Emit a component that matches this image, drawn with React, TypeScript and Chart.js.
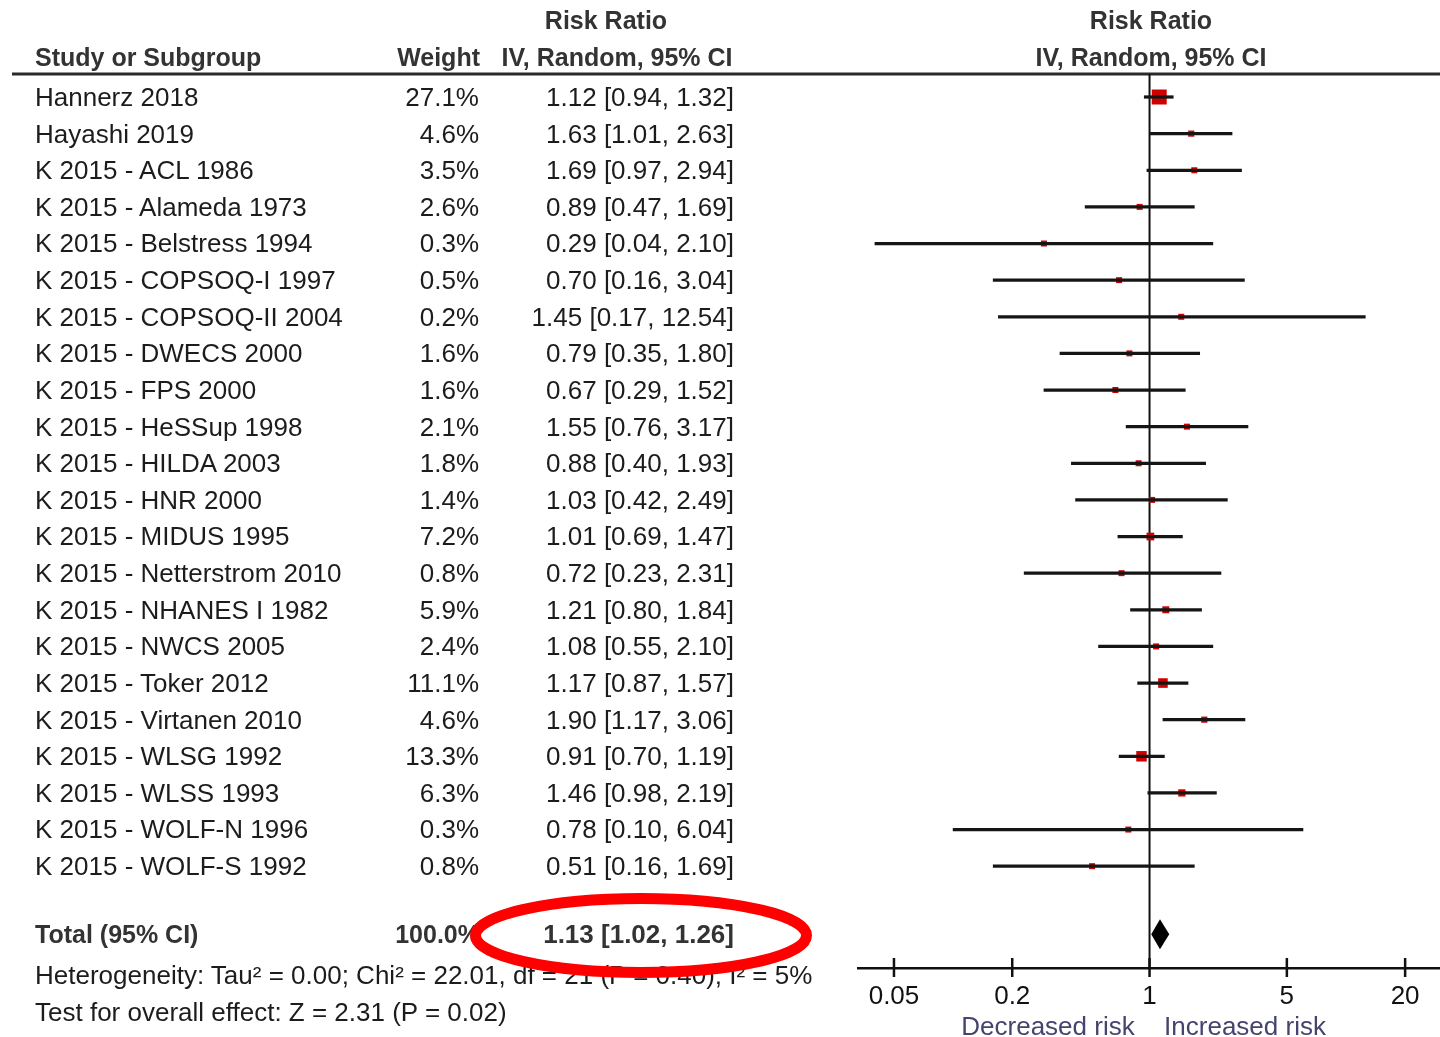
import React, { useEffect, useRef } from "react";
import { Chart, registerables } from "chart.js";

Chart.register(...registerables);

const studies = [
  "Hannerz 2018",
  "Hayashi 2019",
  "K 2015 - ACL 1986",
  "K 2015 - Alameda 1973",
  "K 2015 - Belstress 1994",
  "K 2015 - COPSOQ-I 1997",
  "K 2015 - COPSOQ-II 2004",
  "K 2015 - DWECS 2000",
  "K 2015 - FPS 2000",
  "K 2015 - HeSSup 1998",
  "K 2015 - HILDA 2003",
  "K 2015 - HNR 2000",
  "K 2015 - MIDUS 1995",
  "K 2015 - Netterstrom 2010",
  "K 2015 - NHANES I 1982",
  "K 2015 - NWCS 2005",
  "K 2015 - Toker 2012",
  "K 2015 - Virtanen 2010",
  "K 2015 - WLSG 1992",
  "K 2015 - WLSS 1993",
  "K 2015 - WOLF-N 1996",
  "K 2015 - WOLF-S 1992",
];
const weights = [27.1, 4.6, 3.5, 2.6, 0.3, 0.5, 0.2, 1.6, 1.6, 2.1, 1.8, 1.4, 7.2, 0.8, 5.9, 2.4, 11.1, 4.6, 13.3, 6.3, 0.3, 0.8];
const rr = [1.12, 1.63, 1.69, 0.89, 0.29, 0.7, 1.45, 0.79, 0.67, 1.55, 0.88, 1.03, 1.01, 0.72, 1.21, 1.08, 1.17, 1.9, 0.91, 1.46, 0.78, 0.51];
const lower = [0.94, 1.01, 0.97, 0.47, 0.04, 0.16, 0.17, 0.35, 0.29, 0.76, 0.4, 0.42, 0.69, 0.23, 0.8, 0.55, 0.87, 1.17, 0.7, 0.98, 0.1, 0.16];
const upper = [1.32, 2.63, 2.94, 1.69, 2.1, 3.04, 12.54, 1.8, 1.52, 3.17, 1.93, 2.49, 1.47, 2.31, 1.84, 2.1, 1.57, 3.06, 1.19, 2.19, 6.04, 1.69];
const totalRR = 1.13;
const totalLower = 1.02;
const totalUpper = 1.26;
const totalWeight = "100.0%";
const xTicks = [0.05, 0.2, 1, 5, 20];

const fmt = (v: number) => v.toFixed(2);

const ROW0 = 97;
const ROWH = 36.62;
const TOTAL_ROW = 22.86;
const FONT = '"Liberation Sans", Arial, sans-serif';

const overlayPlugin = {
  id: "forestOverlay",
  beforeDatasetsDraw(chart: any) {
    const { ctx, chartArea, scales } = chart;
    const x = scales.x;
    ctx.save();
    // header rule
    ctx.strokeStyle = "#2a2a2a";
    ctx.lineWidth = 3;
    ctx.beginPath();
    ctx.moveTo(12, chartArea.top);
    ctx.lineTo(chart.width, chartArea.top);
    ctx.stroke();
    // line of no effect
    const x1 = x.getPixelForValue(1);
    ctx.strokeStyle = "#111";
    ctx.lineWidth = 2;
    ctx.beginPath();
    ctx.moveTo(x1, chartArea.top);
    ctx.lineTo(x1, chartArea.bottom);
    ctx.stroke();
    ctx.restore();
  },
  afterDatasetsDraw(chart: any) {
    const { ctx, chartArea, scales } = chart;
    const x = scales.x;
    const y = scales.y;
    ctx.save();
    // axis tick marks crossing the axis
    ctx.strokeStyle = "#111";
    ctx.lineWidth = 2.5;
    xTicks.forEach((v) => {
      const px = x.getPixelForValue(v);
      ctx.beginPath();
      ctx.moveTo(px, chartArea.bottom - 10);
      ctx.lineTo(px, chartArea.bottom + 9);
      ctx.stroke();
    });
    // pooled diamond
    const yc = y.getPixelForValue(TOTAL_ROW);
    const xl = x.getPixelForValue(totalLower);
    const xm = x.getPixelForValue(totalRR);
    const xr = x.getPixelForValue(totalUpper);
    ctx.fillStyle = "#000";
    ctx.beginPath();
    ctx.moveTo(xl, yc);
    ctx.lineTo(xm, yc - 15);
    ctx.lineTo(xr, yc);
    ctx.lineTo(xm, yc + 15);
    ctx.closePath();
    ctx.fill();
    ctx.restore();
  },
};

type TProps = {
  text: string;
  x: number;
  y: number;
  align?: "left" | "right" | "center";
  bold?: boolean;
  size?: number;
  color?: string;
};

function T({ text, x, y, align = "left", bold = false, size = 26, color = "#1c1c1c" }: TProps) {
  const lh = 32;
  const style: React.CSSProperties = {
    position: "absolute",
    top: y - lh / 2,
    height: lh,
    lineHeight: lh + "px",
    fontFamily: FONT,
    fontSize: size,
    fontWeight: bold ? 700 : 400,
    color,
    whiteSpace: "nowrap",
  };
  if (align === "left") style.left = x;
  else if (align === "right") style.right = 1440 - x;
  else {
    style.left = x;
    style.transform = "translateX(-50%)";
  }
  return <div style={style}>{text}</div>;
}

export default function App() {
  const canvasRef = useRef<HTMLCanvasElement | null>(null);

  useEffect(() => {
    document.body.style.margin = "0";
    const canvas = canvasRef.current;
    if (!canvas) return;
    const sides = weights.map((w) => Math.max(6, 15 * Math.sqrt(w / 27.1)));
    const chart = new Chart(canvas, {
      type: "bar",
      data: {
        datasets: [
          {
            type: "bar",
            indexAxis: "y",
            data: studies.map((_, i) => ({ x: [lower[i], upper[i]], y: i })),
            backgroundColor: "#151515",
            borderWidth: 0,
            barThickness: 2.6,
          } as any,
          {
            type: "scatter",
            data: studies.map((_, i) => ({ x: rr[i], y: i })),
            pointStyle: "rect",
            pointRadius: sides.map((s) => s / Math.SQRT2),
            pointHoverRadius: sides.map((s) => s / Math.SQRT2),
            backgroundColor: "#d00000",
            borderWidth: 0,
          } as any,
        ],
      },
      options: {
        animation: false,
        responsive: false,
        maintainAspectRatio: false,
        events: [],
        layout: { autoPadding: false, padding: { left: 858, top: 74, right: 0, bottom: 0 } },
        plugins: { legend: { display: false }, tooltip: { enabled: false } },
        scales: {
          x: {
            type: "logarithmic",
            position: "bottom",
            offset: false,
            min: 0.0328,
            max: 30.1,
            border: { display: true, color: "#111", width: 2.5 },
            grid: { display: false, drawTicks: false, offset: false },
            afterBuildTicks: (s: any) => {
              s.ticks = xTicks.map((v) => ({ value: v }));
            },
            afterFit: (s: any) => {
              s.height = 69;
              s.paddingLeft = 0;
              s.paddingRight = 0;
            },
            ticks: {
              autoSkip: false,
              maxRotation: 0,
              padding: 13,
              color: "#111",
              font: { family: FONT, size: 26 },
              callback: (v: any) => String(v),
            },
          },
          y: {
            type: "linear",
            reverse: true,
            offset: false,
            grid: { offset: false },
            min: -0.628,
            max: 23.78,
            display: false,
          },
        },
      } as any,
      plugins: [overlayPlugin],
    });
    return () => chart.destroy();
  }, []);

  const hdr = "#333";
  return (
    <div style={{ position: "absolute", left: 0, top: 0, width: 1440, height: 1037, background: "#fff", overflow: "hidden" }}>
      <canvas ref={canvasRef} width={1440} height={1037} style={{ position: "absolute", left: 0, top: 0, width: 1440, height: 1037 }} />
      <T text="Risk Ratio" x={606} y={20} align="center" bold size={25} color={hdr} />
      <T text="Study or Subgroup" x={35} y={57} bold size={25} color={hdr} />
      <T text="Weight" x={480} y={57} align="right" bold size={25} color={hdr} />
      <T text="IV, Random, 95% CI" x={617} y={57} align="center" bold size={25} color={hdr} />
      <T text="Risk Ratio" x={1151} y={20} align="center" bold size={25} color={hdr} />
      <T text="IV, Random, 95% CI" x={1151} y={57} align="center" bold size={25} color={hdr} />
      {studies.map((s, i) => {
        const yc = ROW0 + ROWH * i;
        return (
          <React.Fragment key={s}>
            <T text={s} x={35} y={yc} />
            <T text={weights[i].toFixed(1) + "%"} x={479} y={yc} align="right" />
            <T text={`${fmt(rr[i])} [${fmt(lower[i])}, ${fmt(upper[i])}]`} x={734} y={yc} align="right" />
          </React.Fragment>
        );
      })}
      <T text="Total (95% CI)" x={35} y={934} bold size={25} color={hdr} />
      <T text={totalWeight} x={480} y={934} align="right" bold size={25} color={hdr} />
      <T text={`${fmt(totalRR)} [${fmt(totalLower)}, ${fmt(totalUpper)}]`} x={734} y={934} align="right" bold size={26} color={hdr} />
      <T text="Heterogeneity: Tau² = 0.00; Chi² = 22.01, df = 21 (P = 0.40); I² = 5%" x={35} y={975} />
      <T text="Test for overall effect: Z = 2.31 (P = 0.02)" x={35} y={1012} />
      <T text="Decreased risk" x={1048} y={1026} align="center" color="#44446e" />
      <T text="Increased risk" x={1245} y={1026} align="center" color="#44446e" />
      <svg width={1440} height={1037} style={{ position: "absolute", left: 0, top: 0, pointerEvents: "none" }}>
        <ellipse cx={641} cy={935.5} rx={165.5} ry={37} fill="none" stroke="#ff0000" strokeWidth={11} />
      </svg>
    </div>
  );
}
